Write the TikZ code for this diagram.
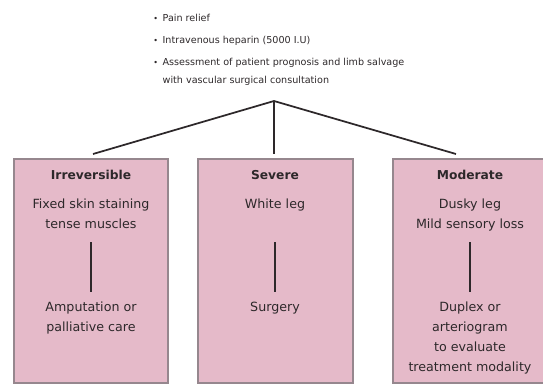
\documentclass[tikz,border=0pt]{standalone}
\usepackage{fontspec}
\setmainfont{DejaVu Sans}
\usetikzlibrary{calc}
\definecolor{boxpink}{RGB}{229,186,201}
\definecolor{boxedge}{RGB}{150,135,142}
\definecolor{inkgray}{RGB}{45,40,42}
\tikzset{
  stage/.style={draw=boxedge, line width=1.3pt, fill=boxpink, inner sep=0pt,
                minimum height=168pt},
  link/.style={draw=inkgray, line width=1.3pt},
  inlink/.style={draw=inkgray, line width=1.1pt},
  cell/.style={align=center, font=\fontsize{9.5}{15}\selectfont, text=inkgray, inner sep=0pt},
  head/.style={cell, font=\fontsize{9.2}{15}\selectfont\bfseries},
  plan/.style={align=left, font=\fontsize{7.2}{13.5}\selectfont, text=inkgray, inner sep=0pt, anchor=north west}
}
\newcommand{\dotmark}{{\fontsize{6}{6}\selectfont\textbullet}\hspace{3.5pt}}
\begin{document}
\begin{tikzpicture}[x=0.75pt, y=-0.75pt]
  \useasboundingbox (0,0) rectangle (543,386);
  \clip (0,0) rectangle (543,386);

  % initial management
  \node[plan] (care) at (153,13.5) {%
    \dotmark Pain relief\\[3pt]
    \dotmark Intravenous heparin (5000 I.U)\\[3pt]
    \dotmark Assessment of patient prognosis and limb salvage\\
    \hphantom{\dotmark}with vascular surgical consultation};

  % the three categories
  \node[stage, minimum width=115.5pt] (irr) at (91,271) {};
  \node[stage, minimum width=116pt] (sev) at (275.5,271) {};
  \node[stage, minimum width=116pt] (mod) at (470.5,271) {};

  % branching connectors
  \coordinate (apex) at (274,101);
  \coordinate (irrend) at (93,154);
  \coordinate (modend) at (456,154);
  \coordinate (sevend) at (274,154);
  \draw[link] (irrend) -- (apex) -- (modend);
  \draw[link] (apex) -- (sevend);

  % Irreversible
  \node[head] (irrh) at (91,175) {Irreversible};
  \node[cell, anchor=north] (irrs) at (91,199) {Fixed skin staining\\tense muscles};
  \node[cell, anchor=north] (irrt) at (91,302) {Amputation or\\palliative care};
  \coordinate (irra) at (91,242);
  \coordinate (irrb) at (91,292);
  \draw[inlink] (irra) -- (irrb);

  % Severe
  \node[head] (sevh) at (275,175) {Severe};
  \node[cell, anchor=north] (sevs) at (275,199) {White leg};
  \node[cell, anchor=north] (sevt) at (275,302) {Surgery};
  \coordinate (seva) at (275,242);
  \coordinate (sevb) at (275,292);
  \draw[inlink] (seva) -- (sevb);

  % Moderate
  \node[head] (modh) at (470,175) {Moderate};
  \node[cell, anchor=north] (mods) at (470,199) {Dusky leg\\Mild sensory loss};
  \node[cell, anchor=north] (modt) at (470,302) {Duplex or\\arteriogram\\to evaluate\\treatment modality};
  \coordinate (moda) at (470,242);
  \coordinate (modb) at (470,292);
  \draw[inlink] (moda) -- (modb);
\end{tikzpicture}
\end{document}
